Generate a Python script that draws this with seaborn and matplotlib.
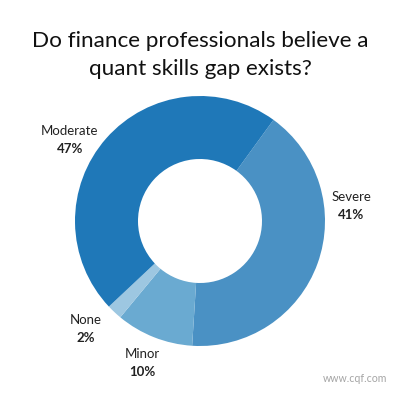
import matplotlib
matplotlib.use("Agg")
import matplotlib.pyplot as plt
import seaborn as sns

categories = ["Severe", "Minor", "None", "Moderate"]
shares = [41, 10, 2, 47]
colors = ["#4a91c4", "#6aaad1", "#9dc7e1", "#1f78b8"]

title = "Do finance professionals believe a\nquant skills gap exists?"

sns.set_theme(style="white")
plt.rcParams["font.family"] = ["Lato", "DejaVu Sans"]

fig = plt.figure(figsize=(4, 4), dpi=100)
ax = fig.add_axes([0, 0, 1, 1])

# y axis is flipped below, so counterclock here reads clockwise on screen
ax.pie(shares, colors=colors, startangle=-54, counterclock=True,
       center=(200, 221), radius=125,
       wedgeprops=dict(width=63, linewidth=0))
ax.set_xlim(0, 400)
ax.set_ylim(400, 0)
ax.set_aspect("equal")
ax.axis("off")

label_pos = {
    "Moderate": (70, 131),
    "Severe": (351, 197),
    "None": (86, 320),
    "Minor": (142, 354),
}
for cat, val in zip(categories, shares):
    x, y = label_pos[cat]
    ax.text(x, y, cat, ha="center", va="center", fontsize=9.5, color="#222222")
    ax.text(x, y + 18, f"{val}%", ha="center", va="center", fontsize=9.5,
            fontweight="bold", color="#222222")

ax.text(200, 55, title, ha="center", va="center", fontsize=16.2, color="#111111",
        linespacing=1.5)
ax.text(355, 379, "www.cqf.com", ha="center", va="center", fontsize=7.6,
        color="#a5a5a5")

fig.savefig("out.png", dpi=100)
